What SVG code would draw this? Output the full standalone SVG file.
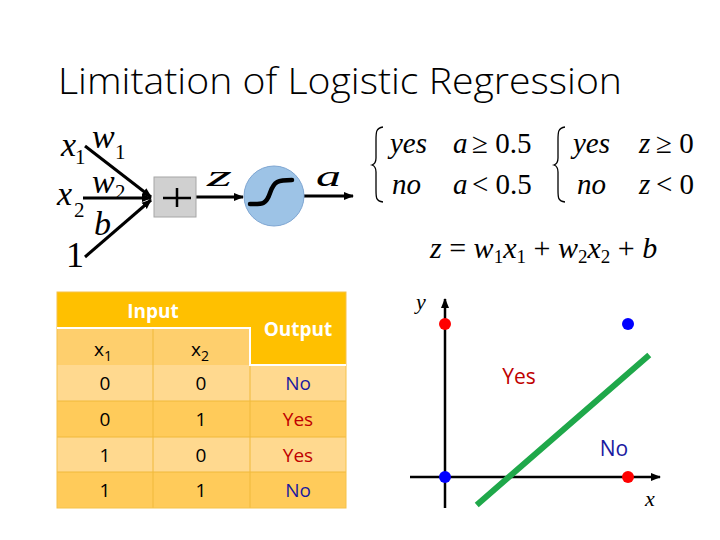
<svg xmlns="http://www.w3.org/2000/svg" width="720" height="540" viewBox="0 0 720 540">
<style>
.title{font-family:"Open Sans","Liberation Sans",sans-serif;font-weight:300;font-size:37px;fill:#000}
.m{font-family:"Liberation Serif","DejaVu Serif",serif;font-style:italic;fill:#000}
.mr{font-family:"Liberation Serif","DejaVu Serif",serif;fill:#000}
.ln{stroke:#000;stroke-width:3;fill:none}
.tc{font-family:"Open Sans","Liberation Sans",sans-serif;font-size:19px;text-anchor:middle;fill:#000}
.th{font-family:"Open Sans","Liberation Sans",sans-serif;font-size:19px;font-weight:bold;text-anchor:middle;fill:#fff}
.lbl{font-family:"Open Sans","Liberation Sans",sans-serif;font-size:21px;text-anchor:middle}
.yes{fill:#c00000}
.no{fill:#1a1aa0}
.grid{stroke:#f0b93a;stroke-width:1}
.ax{stroke:#000;stroke-width:2.5;fill:none}
</style>
<defs>
<marker id="arr" viewBox="0 0 10 10" refX="9" refY="5" markerWidth="10" markerHeight="10" markerUnits="userSpaceOnUse" orient="auto">
<path d="M0,1 L10,5 L0,9 z" fill="#000"/>
</marker>
</defs>

<text class="title" x="58" y="94" textLength="564" lengthAdjust="spacingAndGlyphs">Limitation of Logistic Regression</text>

<g id="connectors">
<line class="ln" x1="85" y1="146" x2="151" y2="197" marker-end="url(#arr)"/>
<line class="ln" x1="83" y1="198" x2="151" y2="198" marker-end="url(#arr)"/>
<line class="ln" x1="85" y1="257" x2="151" y2="200" marker-end="url(#arr)"/>
<line class="ln" x1="196" y1="197" x2="243" y2="197" marker-end="url(#arr)"/>
<line class="ln" x1="304" y1="196" x2="353" y2="196" marker-end="url(#arr)"/>
</g>

<g id="inputs">
<text class="m" x="61" y="156" font-size="34">x</text><text class="mr" x="75" y="164" font-size="21">1</text>
<text class="m" x="57" y="205" font-size="34">x</text><text class="mr" x="74" y="217" font-size="21">2</text>
<text class="m" x="92" y="148" font-size="34">w</text><text class="mr" x="115" y="159" font-size="21">1</text>
<text class="m" x="92" y="193" font-size="34">w</text><text class="mr" x="115" y="199" font-size="21">2</text>
<text class="m" x="94" y="235" font-size="34">b</text>
<text class="mr" x="66" y="267" font-size="36">1</text>
</g>

<g id="sum">
<rect x="154" y="177" width="42" height="40" fill="#d0d0d0" stroke="#a6a6a6" stroke-width="1"/>
<line x1="163" y1="198" x2="191" y2="198" stroke="#000" stroke-width="2.5"/>
<line x1="177" y1="188" x2="177" y2="207" stroke="#000" stroke-width="2.5"/>
</g>

<text class="m" x="207" y="186" font-size="30" textLength="25" lengthAdjust="spacingAndGlyphs">z</text>

<g id="sigmoid">
<circle cx="274" cy="196" r="30" fill="#9dc3e6" stroke="#7fa6d2" stroke-width="1"/>
<path d="M250,204 C262,204 266,205 270,193 S278,180 292,180" stroke="#000" stroke-width="4.5" fill="none" stroke-linecap="round"/>
</g>

<text class="m" x="316" y="186" font-size="30" textLength="25" lengthAdjust="spacingAndGlyphs">a</text>

<g id="cond1">
<path d="M383,127 C376,128 376,132 376,140 L376,158 C376,162 375,164 372,165 C375,166 376,168 376,172 L376,190 C376,198 376,201 383,202" stroke="#000" stroke-width="1.3" fill="none"/>
<text class="m" x="390" y="153" font-size="29">yes</text>
<text class="m" x="453" y="153" font-size="29">a</text><text class="mr" x="472" y="153" font-size="29">≥ 0.5</text>
<text class="m" x="392" y="194" font-size="29">no</text>
<text class="m" x="453" y="194" font-size="29">a</text><text class="mr" x="472" y="194" font-size="29">&lt; 0.5</text>
</g>

<g id="cond2">
<path d="M565,127 C558,128 558,132 558,140 L558,158 C558,162 557,164 554,165 C557,166 558,168 558,172 L558,190 C558,198 558,201 565,202" stroke="#000" stroke-width="1.3" fill="none"/>
<text class="m" x="573" y="153" font-size="29">yes</text>
<text class="m" x="639" y="153" font-size="29">z</text><text class="mr" x="656" y="153" font-size="29">≥ 0</text>
<text class="m" x="577" y="194" font-size="29">no</text>
<text class="m" x="639" y="194" font-size="29">z</text><text class="mr" x="656" y="194" font-size="29">&lt; 0</text>
</g>

<g id="equation">
<text x="430" y="258" font-size="30" class="mr"><tspan class="m">z</tspan> = <tspan class="m">w</tspan><tspan font-size="19" dy="5">1</tspan><tspan class="m" dy="-5">x</tspan><tspan font-size="19" dy="5">1</tspan><tspan dy="-5"> + </tspan><tspan class="m">w</tspan><tspan font-size="19" dy="5">2</tspan><tspan class="m" dy="-5">x</tspan><tspan font-size="19" dy="5">2</tspan><tspan dy="-5"> + </tspan><tspan class="m">b</tspan></text>
</g>

<g id="table">
<rect x="57" y="292" width="289" height="36" fill="#ffc000"/>
<rect x="250" y="328" width="96" height="37" fill="#ffc000"/>
<rect x="57" y="328" width="193" height="37" fill="#fecf6d"/>
<rect x="57" y="365" width="289" height="36" fill="#ffd98f"/>
<rect x="57" y="401" width="289" height="36" fill="#ffcb5a"/>
<rect x="57" y="437" width="289" height="35" fill="#ffd98f"/>
<rect x="57" y="472" width="289" height="36" fill="#ffcb5a"/>
<line class="grid" x1="153" y1="328" x2="153" y2="508"/>
<line class="grid" x1="250" y1="365" x2="250" y2="508"/>
<line class="grid" x1="57" y1="401" x2="346" y2="401"/>
<line class="grid" x1="57" y1="437" x2="346" y2="437"/>
<line class="grid" x1="57" y1="472" x2="346" y2="472"/>
<rect x="57" y="292" width="289" height="216" fill="none" stroke="#f5c24a" stroke-width="1"/>
<path d="M57,328 L250,328 L250,365 L346,365" stroke="#fff" stroke-width="2" fill="none"/>
<text class="th" x="153" y="318">Input</text>
<text class="th" x="298" y="336">Output</text>
<text class="tc" x="103" y="356">x<tspan font-size="14" dy="5">1</tspan></text>
<text class="tc" x="200" y="356">x<tspan font-size="14" dy="5">2</tspan></text>
<text class="tc" x="105" y="390">0</text><text class="tc" x="201" y="390">0</text><text class="tc no" x="298" y="390">No</text>
<text class="tc" x="105" y="426">0</text><text class="tc" x="201" y="426">1</text><text class="tc yes" x="298" y="426">Yes</text>
<text class="tc" x="105" y="462">1</text><text class="tc" x="201" y="462">0</text><text class="tc yes" x="298" y="462">Yes</text>
<text class="tc" x="105" y="497">1</text><text class="tc" x="201" y="497">1</text><text class="tc no" x="298" y="497">No</text>
</g>

<g id="plot">
<line class="ax" x1="445" y1="508" x2="445" y2="299" marker-end="url(#arr)"/>
<line class="ax" x1="410" y1="477" x2="660" y2="477" marker-end="url(#arr)"/>
<text class="m" x="416" y="309" font-size="22">y</text>
<text class="m" x="645" y="506" font-size="22">x</text>
<line x1="479" y1="503" x2="647" y2="357" stroke="#1fa84a" stroke-width="6" stroke-linecap="square"/>
<circle cx="445" cy="324" r="6" fill="#ff0000"/>
<circle cx="628" cy="324" r="6" fill="#0000ff"/>
<circle cx="445" cy="477" r="6" fill="#0000ff"/>
<circle cx="628" cy="477" r="6" fill="#ff0000"/>
<text class="lbl yes" x="519" y="384">Yes</text>
<text class="lbl no" x="614" y="456">No</text>
</g>
</svg>
